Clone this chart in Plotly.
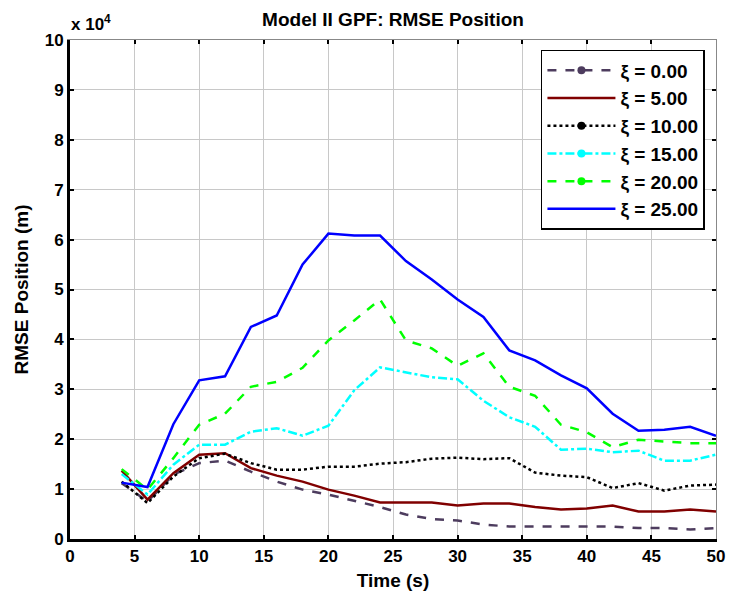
import plotly.graph_objects as go

time_s = [4, 6, 8, 10, 12, 14, 16, 18, 20, 22, 24, 26, 28, 30, 32, 34, 36, 38, 40, 42, 44, 46, 48, 50]

xi_00 = [1.12, 0.75, 1.29, 1.52, 1.57, 1.35, 1.15, 0.99, 0.89, 0.77, 0.64, 0.49, 0.40, 0.37, 0.29, 0.25, 0.25, 0.25, 0.25, 0.25, 0.22, 0.22, 0.19, 0.22]
xi_05 = [1.37, 0.79, 1.32, 1.69, 1.72, 1.42, 1.27, 1.15, 0.99, 0.87, 0.73, 0.73, 0.73, 0.67, 0.71, 0.71, 0.64, 0.59, 0.61, 0.67, 0.55, 0.55, 0.59, 0.55]
xi_10 = [1.15, 0.72, 1.25, 1.62, 1.71, 1.52, 1.39, 1.39, 1.45, 1.45, 1.51, 1.54, 1.61, 1.63, 1.60, 1.62, 1.33, 1.27, 1.24, 1.02, 1.12, 0.97, 1.07, 1.09]
xi_15 = [1.30, 0.89, 1.49, 1.89, 1.89, 2.15, 2.22, 2.07, 2.27, 2.98, 3.44, 3.34, 3.24, 3.20, 2.77, 2.44, 2.25, 1.79, 1.81, 1.74, 1.77, 1.57, 1.57, 1.69]
xi_20 = [1.40, 0.99, 1.62, 2.29, 2.51, 3.05, 3.15, 3.43, 3.98, 4.38, 4.80, 3.98, 3.82, 3.47, 3.72, 3.05, 2.87, 2.29, 2.14, 1.84, 1.99, 1.95, 1.92, 1.92]
xi_25 = [1.13, 1.04, 2.30, 3.18, 3.26, 4.25, 4.48, 5.50, 6.12, 6.08, 6.08, 5.57, 5.20, 4.80, 4.45, 3.78, 3.58, 3.28, 3.02, 2.51, 2.17, 2.19, 2.25, 2.07]

series_names = ["ξ = 0.00", "ξ = 5.00", "ξ = 10.00", "ξ = 15.00", "ξ = 20.00", "ξ = 25.00"]
series_vals = [xi_00, xi_05, xi_10, xi_15, xi_20, xi_25]
colors = ["#4d3c5e", "#800000", "#000000", "#00ffff", "#00ff00", "#0000ff"]
dashes = ["dash", "solid", "dot", "dashdot", "dash", "solid"]
has_marker = [True, False, True, True, True, False]

x_ticks = [0, 5, 10, 15, 20, 25, 30, 35, 40, 45, 50]
y_ticks = [0, 1, 2, 3, 4, 5, 6, 7, 8, 9, 10]
scale = 1e4

FONT = "Liberation Sans, Arial, sans-serif"

fig = go.Figure()
for i, (name, vals, c, d, m) in enumerate(zip(series_names, series_vals, colors, dashes, has_marker)):
    fig.add_trace(go.Scatter(
        x=time_s, y=[v * scale for v in vals], mode="lines",
        line=dict(color=c, dash=d, width=2.5), showlegend=False, hoverinfo="skip"))
    fig.add_trace(go.Scatter(
        x=[None], y=[None], mode="lines+markers" if m else "lines", name=f"<b>{name}</b>",
        line=dict(color=c, dash=d, width=2.5),
        marker=dict(color=c, size=8, symbol="circle")))

# invisible trace on mirrored axes so they render
fig.add_trace(go.Scatter(x=[None], y=[None], xaxis="x2", yaxis="y2", showlegend=False))

fig.update_layout(
    width=729, height=596,
    margin=dict(l=70, r=13, t=40, b=57, autoexpand=False),
    paper_bgcolor="white", plot_bgcolor="white",
    font=dict(family=FONT, color="black", size=15),
    title=dict(text="<b>Model II GPF: RMSE Position</b>", xref="paper", x=0.5, xanchor="center",
               y=1 - 19 / 596, yanchor="middle", font=dict(size=19, family=FONT)),
    legend=dict(x=0.729, y=0.98, xanchor="left", yanchor="top",
                bgcolor="white", bordercolor="black", borderwidth=1.5,
                font=dict(size=19, family=FONT), itemwidth=68,
                tracegroupgap=0),
    showlegend=True,
    xaxis2=dict(overlaying="x", side="top", range=[0, 50], tickvals=x_ticks,
                showticklabels=False, showgrid=False, zeroline=False,
                showline=True, linecolor="#888888", linewidth=1,
                ticks="inside", ticklen=4, tickcolor="black", tickwidth=2),
    yaxis2=dict(overlaying="y", side="right", range=[0, 10 * scale],
                tickvals=[t * scale for t in y_ticks],
                showticklabels=False, showgrid=False, zeroline=False,
                showline=True, linecolor="#888888", linewidth=1,
                ticks="inside", ticklen=4, tickcolor="black", tickwidth=2),
    xaxis=dict(
        range=[0, 50], tickvals=x_ticks, ticktext=[f"<b>{t}</b>" for t in x_ticks],
        showgrid=True, gridcolor="#c8c8c8", gridwidth=1,
        showline=True, linecolor="black", linewidth=3,
        ticks="inside", ticklen=4, tickcolor="black", tickwidth=2,
        zeroline=False, tickfont=dict(size=17),
        title=dict(text="<b>Time (s)</b>", font=dict(size=19), standoff=9),
    ),
    yaxis=dict(
        range=[0, 10 * scale], tickvals=[t * scale for t in y_ticks],
        ticktext=[f"<b>{t}</b>" for t in y_ticks],
        showgrid=True, gridcolor="#c8c8c8", gridwidth=1,
        showline=True, linecolor="black", linewidth=3,
        ticks="inside", ticklen=4, tickcolor="black", tickwidth=2,
        zeroline=False, tickfont=dict(size=17),
        title=dict(text="<b>RMSE Position (m)</b>", font=dict(size=19), standoff=12),
    ),
)
fig.add_annotation(text="<b>x 10<sup>4</sup></b>", xref="paper", yref="paper",
                   x=-0.002, y=1.008, xanchor="left", yanchor="bottom",
                   showarrow=False, font=dict(size=17, family=FONT))

fig.write_html("out.html")
